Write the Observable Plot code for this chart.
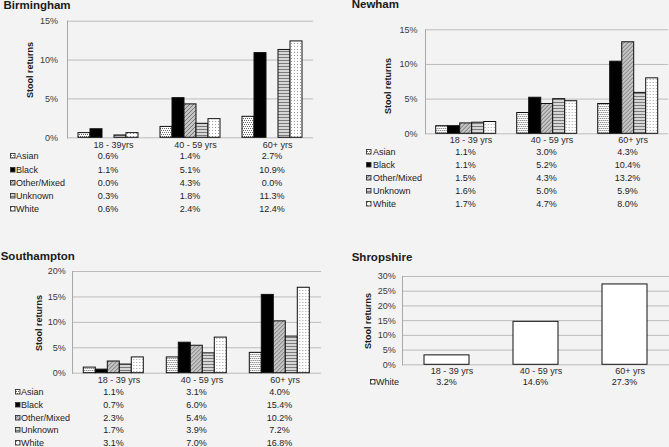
<!DOCTYPE html>
<html>
<head>
<meta charset="utf-8">
<script src="https://cdn.jsdelivr.net/npm/d3@7"></script>
<script src="https://cdn.jsdelivr.net/npm/@observablehq/plot@0.6"></script>
<style>
  html, body { margin: 0; padding: 0; background: #f3f3f3; }
  #root { position: relative; width: 669px; height: 447px; overflow: hidden;
          font-family: "Liberation Sans", Arial, sans-serif; color: #222; }
  .t { position: absolute; line-height: 1; white-space: pre; }
  .panel-svg { position: absolute; }
</style>
</head>
<body>
<div id="root">
<svg width="0" height="0" style="position:absolute">
  <defs>
    <pattern id="pAsian" width="4" height="4" patternUnits="userSpaceOnUse">
      <rect width="4" height="4" fill="#ffffff"/>
      <rect x="0" y="0" width="1" height="1" fill="#666"/>
      <rect x="2" y="0" width="1" height="1" fill="#666"/>
      <rect x="1" y="2" width="1" height="1" fill="#666"/>
      <rect x="3" y="2" width="1" height="1" fill="#666"/>
    </pattern>
    <pattern id="pOther" width="4" height="4" patternUnits="userSpaceOnUse">
      <rect width="4" height="4" fill="#c4c4c4"/>
      <path d="M0,4L4,0M-1,1L1,-1M3,5L5,3" stroke="#777" stroke-width="1"/>
    </pattern>
    <pattern id="pUnknown" width="4" height="3" patternUnits="userSpaceOnUse">
      <rect width="4" height="3" fill="#d6d6d6"/>
      <rect x="0" y="0" width="4" height="1" fill="#7a7a7a"/>
    </pattern>
    <pattern id="pWhite" width="3" height="3" patternUnits="userSpaceOnUse">
      <rect width="3" height="3" fill="#ffffff"/>
      <rect x="1" y="1" width="1" height="1" fill="#9c9c9c"/>
    </pattern>
  </defs>
</svg>
</div>
<script>
// ---------- data ----------
const ages = ["18-39", "40-59", "60+"];
const races = ["Asian", "Black", "Other/Mixed", "Unknown", "White"];

const birminghamAgeLabels = ["18 - 39yrs", "40 - 59 yrs", "60+ yrs"];
const newhamAgeLabels = ["18 - 39 yrs", "40 - 59 yrs", "60+ yrs"];
const southamptonAgeLabels = ["18 - 39 yrs", "40 - 59 yrs", "60+ yrs"];
const shropshireAgeLabels = ["18 - 39 yrs", "40 - 59 yrs", "60+ yrs"];

const birminghamAsian = [0.6, 1.4, 2.7];
const birminghamBlack = [1.1, 5.1, 10.9];
const birminghamOther = [0.0, 4.3, 0.0];
const birminghamUnknown = [0.3, 1.8, 11.3];
const birminghamWhite = [0.6, 2.4, 12.4];

const newhamAsian = [1.1, 3.0, 4.3];
const newhamBlack = [1.1, 5.2, 10.4];
const newhamOther = [1.5, 4.3, 13.2];
const newhamUnknown = [1.6, 5.0, 5.9];
const newhamWhite = [1.7, 4.7, 8.0];

const southamptonAsian = [1.1, 3.1, 4.0];
const southamptonBlack = [0.7, 6.0, 15.4];
const southamptonOther = [2.3, 5.4, 10.2];
const southamptonUnknown = [1.7, 3.9, 7.2];
const southamptonWhite = [3.1, 7.0, 16.8];

const shropshireWhite = [3.2, 14.6, 27.3];

const birminghamTicks = [0, 5, 10, 15];
const newhamTicks = [0, 5, 10, 15];
const southamptonTicks = [0, 5, 10, 15, 20];
const shropshireTicks = [0, 5, 10, 15, 20, 25, 30];

// ---------- styling ----------
const fills = {
  "Asian": "url(#pAsian)",
  "Black": "#000000",
  "Other/Mixed": "url(#pOther)",
  "Unknown": "url(#pUnknown)",
  "White": "url(#pWhite)"
};

const panels = [
  { name: "Birmingham", ageLabels: birminghamAgeLabels, ticks: birminghamTicks,
    series: [["Asian", birminghamAsian], ["Black", birminghamBlack], ["Other/Mixed", birminghamOther], ["Unknown", birminghamUnknown], ["White", birminghamWhite]],
    box: {left: 0, top: 0, width: 330, height: 150}, m: {top: 20.7, right: 17, bottom: 12.7, left: 67},
    outer: 0.72, yPad: 9.5, fxPad: 4, titlePos: [3.5, 5.5], ylab: [30, 70], row0: 156.3, rowStep: 13.25, keyX: 10, textX: 16 },
  { name: "Newham", ageLabels: newhamAgeLabels, ticks: newhamTicks,
    series: [["Asian", newhamAsian], ["Black", newhamBlack], ["Other/Mixed", newhamOther], ["Unknown", newhamUnknown], ["White", newhamWhite]],
    box: {left: 335, top: 0, width: 334, height: 145}, m: {top: 29.3, right: 0, bottom: 11.7, left: 88.3},
    outer: 0.75, yPad: 8, fxPad: 2.5, titlePos: [351.7, 5.3], ylab: [387.7, 86], row0: 152.3, rowStep: 12.9, keyX: 366, textX: 373 },
  { name: "Southampton", ageLabels: southamptonAgeLabels, ticks: southamptonTicks,
    series: [["Asian", southamptonAsian], ["Black", southamptonBlack], ["Other/Mixed", southamptonOther], ["Unknown", southamptonUnknown], ["White", southamptonWhite]],
    box: {left: 0, top: 250, width: 330, height: 135}, m: {top: 21, right: 8.3, bottom: 12.3, left: 71.7},
    outer: 0.73, yPad: 6.7, fxPad: 3, titlePos: [0.7, 257], ylab: [39.3, 322.5], row0: 391.7, rowStep: 12.9, keyX: 15, textX: 21 },
  { name: "Shropshire", ageLabels: shropshireAgeLabels, ticks: shropshireTicks,
    series: [["White", shropshireWhite]],
    box: {left: 335, top: 250, width: 334, height: 128}, m: {top: 26, right: 0, bottom: 13.7, left: 66},
    outer: 0.47, yPad: 6.7, fxPad: 3, titlePos: [351.7, 257.5], ylab: [368.3, 320.5], row0: 382.3, rowStep: 12.9, keyX: 370, textX: 376 }
];

const root = document.getElementById("root");
const FONT = '"Liberation Sans", Arial, sans-serif';

function addText(txt, x, y, {size = 9, weight = "normal", align = "left", color = "#222", rotate = false} = {}) {
  const d = document.createElement("div");
  d.className = "t";
  d.textContent = txt;
  d.style.left = x + "px";
  d.style.top = y + "px";
  d.style.fontSize = size + "px";
  d.style.fontWeight = weight;
  d.style.color = color;
  let tr = align === "center" ? "translate(-50%,-50%)" : "translate(0,-50%)";
  if (rotate) tr = "translate(-50%,-50%) rotate(-90deg)";
  d.style.transform = tr;
  root.appendChild(d);
  return d;
}

function addKey(race, x, y) {
  const ns = "http://www.w3.org/2000/svg";
  const s = document.createElementNS(ns, "svg");
  s.setAttribute("width", 6); s.setAttribute("height", 6);
  s.style.position = "absolute";
  s.style.left = x + "px";
  s.style.top = (y - 3) + "px";
  const r = document.createElementNS(ns, "rect");
  r.setAttribute("x", 0.5); r.setAttribute("y", 0.5);
  r.setAttribute("width", 4.5); r.setAttribute("height", 4.5);
  r.setAttribute("fill", fills[race]);
  r.setAttribute("stroke", "#333");
  r.setAttribute("stroke-width", 0.9);
  s.appendChild(r);
  root.appendChild(s);
}

for (const p of panels) {
  const rows = [];
  for (const [race, vals] of p.series) vals.forEach((v, i) => rows.push({age: ages[i], race, value: v}));
  const raceDomain = p.series.map(s => s[0]);
  const ymax = p.ticks[p.ticks.length - 1];

  const plot = Plot.plot({
    width: p.box.width,
    height: p.box.height,
    marginTop: p.m.top, marginRight: p.m.right, marginBottom: p.m.bottom, marginLeft: p.m.left,
    style: {background: "transparent", fontSize: "9px", fontFamily: FONT, color: "#333", overflow: "visible"},
    facet: {data: rows, x: "age"},
    fx: {domain: ages, padding: 0, label: null},
    x: {domain: raceDomain, paddingInner: 0, paddingOuter: p.outer, axis: null},
    y: {domain: [0, ymax], label: null},
    color: {domain: races, range: races.map(r => fills[r])},
    marks: [
      Plot.ruleY(p.ticks, {stroke: "#bcbcbc", strokeWidth: 1}),
      Plot.frame({anchor: "left", facetAnchor: "left", stroke: "#a8a8a8"}),
      Plot.barY(rows, {x: "race", y: "value", fill: "race", stroke: "#111", strokeWidth: 1, filter: d => d.value > 0}),
      Plot.axisY({ticks: p.ticks, tickSize: 0, tickPadding: p.yPad, tickFormat: d => d + "%", label: null, fill: "#3a3a3a"}),
      Plot.axisFx({anchor: "bottom", tickSize: 0, tickPadding: p.fxPad, dx: 5, label: null,
                   tickFormat: d => p.ageLabels[ages.indexOf(d)], fill: "#2a2a2a"})
    ]
  });
  plot.classList.add("panel-svg");
  plot.style.left = p.box.left + "px";
  plot.style.top = p.box.top + "px";
  root.appendChild(plot);

  // title & axis label
  addText(p.name, p.titlePos[0], p.titlePos[1], {size: 11.5, weight: "bold", color: "#1a1a1a"});
  addText("Stool returns", p.ylab[0], p.ylab[1], {size: 9, weight: "bold", rotate: true, color: "#1a1a1a"});

  // data table
  const fx = plot.scale("fx");
  const centerOf = (age) => {
    const i = ages.indexOf(age);
    const x0 = fx.apply ? fx.apply(age) : fx.range[0] + i * (fx.range[1] - fx.range[0]) / ages.length;
    return p.box.left + x0 + fx.bandwidth / 2;
  };
  p.series.forEach(([race, vals], r) => {
    const y = p.row0 + r * p.rowStep;
    addKey(race, p.keyX, y);
    addText(race, p.textX, y, {size: 9});
    vals.forEach((v, i) => addText(v.toFixed(1) + "%", centerOf(ages[i]), y, {size: 9, align: "center"}));
  });
}
</script>
</body>
</html>
